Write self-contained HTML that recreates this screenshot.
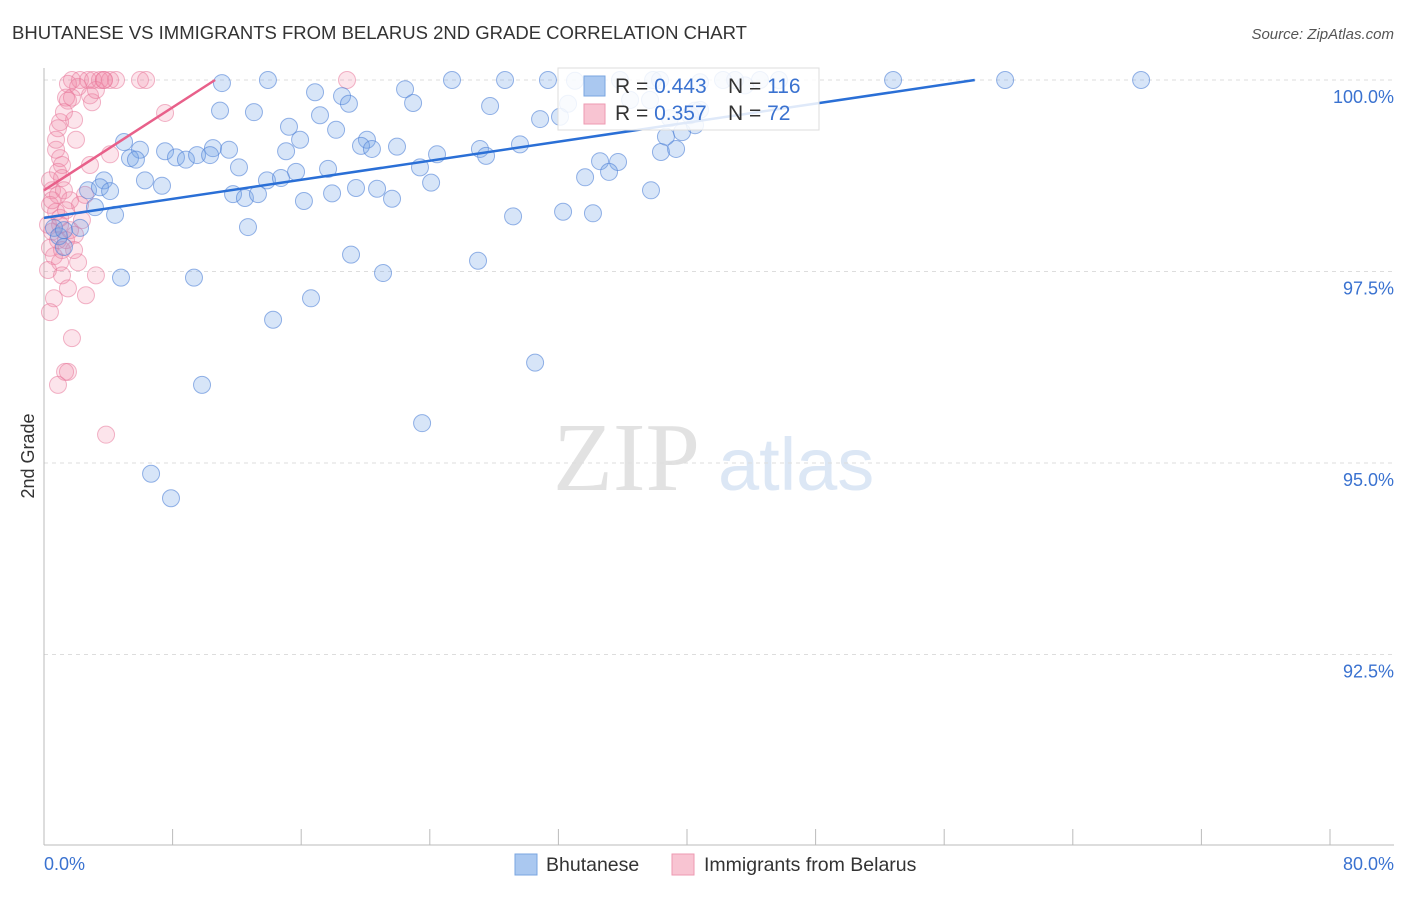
<!DOCTYPE html>
<html><head><meta charset="utf-8"><style>
body{margin:0;background:#fff;font-family:"Liberation Sans",sans-serif}
</style></head><body>
<svg id="c" width="1406" height="892" xmlns="http://www.w3.org/2000/svg">
<text x="12" y="39" font-size="18.5" fill="#333">BHUTANESE VS IMMIGRANTS FROM BELARUS 2ND GRADE CORRELATION CHART</text>
<text x="1394" y="39" font-size="15" fill="#555" font-style="italic" text-anchor="end">Source: ZipAtlas.com</text>
<text x="0" y="0" font-size="18" fill="#333" transform="translate(34,456) rotate(-90)" text-anchor="middle">2nd Grade</text>
<text x="553" y="490" font-size="98" fill="#e2e2e2" font-family="Liberation Serif">ZIP</text>
<text x="718" y="490" font-size="74" fill="#dce7f5">atlas</text>
<g id="grid"></g><g id="pts"></g><g id="lines"></g>
<g>
<rect x="558" y="68" width="261" height="62" fill="#fff" fill-opacity="0.85" stroke="#ddd"/>
<rect x="584" y="76" width="21" height="20" fill="#aac8f0" stroke="#7aa6e0"/>
<rect x="584" y="104" width="21" height="20" fill="#f8c4d2" stroke="#ee9ab2"/>
<text x="615" y="93" font-size="21" fill="#333">R = <tspan fill="#3a72d0">0.443</tspan></text>
<text x="728" y="93" font-size="21" fill="#333">N = <tspan fill="#3a72d0">116</tspan></text>
<text x="615" y="120" font-size="21" fill="#333">R = <tspan fill="#3a72d0">0.357</tspan></text>
<text x="728" y="120" font-size="21" fill="#333">N = <tspan fill="#3a72d0"> 72</tspan></text>
</g>
<g>
<rect x="515" y="854" width="22" height="21" fill="#aac8f0" stroke="#7aa6e0"/>
<text x="546" y="871" font-size="19.5" fill="#333">Bhutanese</text>
<rect x="672" y="854" width="22" height="21" fill="#f8c4d2" stroke="#ee9ab2"/>
<text x="704" y="871" font-size="19.5" fill="#333">Immigrants from Belarus</text>
</g>
<text x="44" y="870" font-size="18" fill="#3a72d0">0.0%</text>
<text x="1394" y="870" font-size="18" fill="#3a72d0" text-anchor="end">80.0%</text>
</svg>
<script>
const yTicks=[100,97.5,95,92.5];
const yTickLabels=["100.0%","97.5%","95.0%","92.5%"];
const xTicks=[0,8,16,24,32,40,48,56,64,72,80];
const blueX=[11.07,13.93,25.38,28.68,31.35,52.82,59.79,68.25,37.89,42.99,44.54,45.72,40.81,33.03,22.46,16.86,18.54,18.97,22.96,27.75,10.95,13.06,17.17,30.86,32.6,40.5,15.24,18.17,4.98,15.93,10.51,11.51,20.09,19.72,20.4,21.96,15.06,7.53,5.97,5.35,5.72,8.21,8.83,9.52,10.33,24.45,27.12,27.5,29.61,34.59,35.71,38.38,39.32,38.69,39.69,40.5,12.13,17.67,23.39,6.28,7.34,3.73,2.74,3.48,4.11,15.68,13.87,14.74,11.76,12.5,13.31,19.41,17.92,20.72,21.65,24.08,16.17,33.66,35.15,37.76,3.17,4.42,29.18,32.29,34.15,12.69,0.62,0.93,1.24,2.24,1.24,4.79,9.33,19.1,21.09,27,14.25,16.61,9.83,30.55,23.52,6.66,7.9,42.24,35.83,32.1,37.7,38.32,36.46,43.61,40.81,40.19,38.94];
const blueY=[99.96,100,100,100,100,100,100,100,100,100,100,100,99.97,99.99,99.88,99.84,99.79,99.69,99.7,99.66,99.6,99.58,99.54,99.49,99.69,99.6,99.39,99.35,99.19,99.22,99.11,99.09,99.22,99.14,99.1,99.13,99.07,99.07,99.09,98.98,98.96,98.99,98.96,99.02,99.02,99.03,99.1,99.01,99.16,98.94,98.93,99.06,99.1,99.26,99.32,99.41,98.86,98.84,98.86,98.69,98.62,98.69,98.56,98.6,98.55,98.8,98.69,98.72,98.51,98.46,98.51,98.59,98.52,98.58,98.45,98.66,98.42,98.73,98.8,98.56,98.34,98.24,98.22,98.28,98.26,98.08,98.07,97.96,98.04,98.07,97.82,97.42,97.42,97.72,97.48,97.64,96.87,97.15,96.02,96.31,95.52,94.86,94.54,100,100,99.52,99.74,100,99.74,99.93,99.61,99.54,99.5];
const pinkX=[1.74,2.24,2.74,3.05,3.48,3.73,4.11,4.48,5.97,6.35,18.85,1.49,2.12,2.86,1.37,1.74,1.49,2.99,7.53,1,0.87,1.87,1.99,0.75,1,1.12,2.86,4.11,0.87,1.12,0.5,0.87,1.24,1.62,0.37,0.75,1,0.25,0.5,0.87,0.37,0.62,1,0.25,1.12,2.12,3.23,2.61,0.62,1.49,0.37,1.74,1.49,1.31,0.87,3.86,1.93,2.36,1.62,0.37,2.24,2.55,1.37,1.12,1.87,0.75,1.24,3.23,3.73,1,1.37,0.5];
const pinkY=[100,100,100,100,100,100,100,100,100,100,100,99.95,99.91,99.8,99.77,99.77,99.73,99.71,99.57,99.45,99.37,99.48,99.22,99.09,98.98,98.89,98.89,99.03,98.8,98.72,98.56,98.5,98.56,98.43,98.37,98.28,98.2,98.11,98.02,97.91,97.81,97.7,97.62,97.52,97.45,97.62,97.45,97.19,97.15,97.28,96.97,96.63,96.19,96.19,96.02,95.37,97.98,98.17,98.04,98.69,98.37,98.5,98.3,97.78,97.78,99.22,99.58,99.87,100,98.11,97.91,98.43];
const blueLine=[[0,98.2],[57.9,100]];
const pinkLine=[[0,98.56],[10.64,100]];
const NS="http://www.w3.org/2000/svg";
const xs=v=>44+v/80*1286;
const ys=v=>80+(100-v)/2.5*191.5;
function mk(t,a,p){const e=document.createElementNS(NS,t);for(const k in a)e.setAttribute(k,a[k]);p.appendChild(e);return e;}
const grid=document.getElementById('grid');
yTicks.forEach((t,i)=>{
 const l=mk('line',{x1:44,x2:1394,y1:ys(t),y2:ys(t),stroke:'#ddd','stroke-dasharray':'4,4'},grid);
 
 
 const tx=mk('text',{x:1394,y:ys(t)+23,'font-size':18,fill:'#3a72d0','text-anchor':'end'},grid);
 tx.textContent=yTickLabels[i];
 
 
});
const ax=mk('line',{x1:44,x2:44,y1:68,y2:845,stroke:'#bbb'},grid);


const bx=mk('line',{x1:44,x2:1394,y1:845,y2:845,stroke:'#bbb'},grid);


xTicks.forEach(t=>{
 const l=mk('line',{x1:xs(t),x2:xs(t),y1:829,y2:845,stroke:'#bbb'},grid);
 
 
});
const pts=document.getElementById('pts');
pinkX.forEach((x,i)=>{
 const c=mk('circle',{cx:xs(x),cy:ys(pinkY[i]),r:8.5,fill:'rgba(240,130,165,0.22)',stroke:'rgba(232,120,155,0.55)','stroke-width':1},pts);
 
 
});
blueX.forEach((x,i)=>{
 const c=mk('circle',{cx:xs(x),cy:ys(blueY[i]),r:8.5,fill:'rgba(110,160,230,0.28)',stroke:'rgba(80,130,215,0.6)','stroke-width':1},pts);
 
 
});
const lines=document.getElementById('lines');
const bl=mk('line',{x1:xs(blueLine[0][0]),y1:ys(blueLine[0][1]),x2:xs(blueLine[1][0]),y2:ys(blueLine[1][1]),stroke:'#2a6fd6','stroke-width':2.5},lines);


const pl=mk('line',{x1:xs(pinkLine[0][0]),y1:ys(pinkLine[0][1]),x2:xs(pinkLine[1][0]),y2:ys(pinkLine[1][1]),stroke:'#e8608a','stroke-width':2.5},lines);


</script>
</body></html>
